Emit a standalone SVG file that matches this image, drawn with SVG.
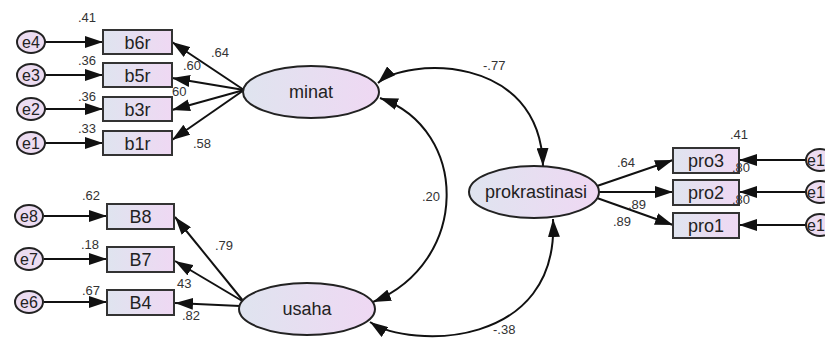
<svg xmlns="http://www.w3.org/2000/svg" width="825" height="338" viewBox="0 0 825 338">
<defs>
<linearGradient id="g" x1="0" y1="0" x2="1" y2="0">
<stop offset="0" stop-color="#dfe4ef"/>
<stop offset="1" stop-color="#efd8f3"/>
</linearGradient>
<marker id="ah" markerUnits="userSpaceOnUse" markerWidth="18" markerHeight="12" refX="18" refY="6" orient="auto-start-reverse">
<path d="M0,0 L18,6 L0,12 z" fill="#111"/>
</marker>
<style>
.box{fill:url(#g);stroke:#333;stroke-width:2}
.lat{fill:url(#g);stroke:#222;stroke-width:2}
.err{fill:#ecdcf1;stroke:#222;stroke-width:2}
.ln{stroke:#111;stroke-width:2;fill:none;marker-end:url(#ah)}
.cv{stroke:#111;stroke-width:2;fill:none;marker-start:url(#ah);marker-end:url(#ah)}
.t{font-family:"Liberation Sans",Arial,sans-serif;font-size:18px;fill:#222;text-anchor:middle}
.e{font-family:"Liberation Sans",Arial,sans-serif;font-size:16px;fill:#222;text-anchor:middle}
.es{font-family:"Liberation Sans",Arial,sans-serif;font-size:16px;fill:#222;text-anchor:start}
.n{font-family:"Liberation Sans",Arial,sans-serif;font-size:13px;fill:#333}
</style>
</defs>
<rect width="825" height="338" fill="#fff"/>

<g id="connectors">
<line class="ln" x1="45" y1="42" x2="103" y2="42"/>
<line class="ln" x1="45" y1="75" x2="103" y2="75"/>
<line class="ln" x1="45" y1="109" x2="103" y2="109"/>
<line class="ln" x1="45" y1="143" x2="103" y2="143"/>
<line class="ln" x1="44" y1="216" x2="107" y2="216"/>
<line class="ln" x1="44" y1="259" x2="107" y2="259"/>
<line class="ln" x1="44" y1="302" x2="107" y2="302"/>
<line class="ln" x1="244" y1="90" x2="172" y2="42"/>
<line class="ln" x1="244" y1="90" x2="172" y2="78"/>
<line class="ln" x1="244" y1="90" x2="172" y2="110"/>
<line class="ln" x1="244" y1="90" x2="172" y2="140"/>
<line class="ln" x1="244" y1="302" x2="175" y2="217"/>
<line class="ln" x1="244" y1="302" x2="175" y2="261"/>
<line class="ln" x1="240" y1="306" x2="175" y2="303"/>
<line class="ln" x1="597" y1="186" x2="673" y2="160"/>
<line class="ln" x1="599" y1="192" x2="673" y2="192"/>
<line class="ln" x1="597" y1="198" x2="673" y2="225"/>
<line class="ln" x1="806" y1="160" x2="739" y2="160"/>
<line class="ln" x1="806" y1="192" x2="739" y2="192"/>
<line class="ln" x1="806" y1="225" x2="739" y2="225"/>
<path class="cv" d="M378,83 C405,58 540,52 543,166"/>
<path class="cv" d="M380,98 C470,130 470,262 373,302"/>
<path class="cv" d="M370,322 C410,349 560,349 553,219"/>
</g>

<g id="e4"><ellipse class="err" cx="31" cy="42" rx="14" ry="11"/><text class="e" x="31" y="48">e4</text></g>
<g id="e3"><ellipse class="err" cx="31" cy="75" rx="14" ry="11"/><text class="e" x="31" y="81">e3</text></g>
<g id="e2"><ellipse class="err" cx="31" cy="109" rx="14" ry="11"/><text class="e" x="31" y="115">e2</text></g>
<g id="e1"><ellipse class="err" cx="31" cy="143" rx="14" ry="11"/><text class="e" x="31" y="149">e1</text></g>
<g id="e8"><ellipse class="err" cx="29" cy="216" rx="14" ry="11"/><text class="e" x="29" y="222">e8</text></g>
<g id="e7"><ellipse class="err" cx="29" cy="259" rx="14" ry="11"/><text class="e" x="29" y="265">e7</text></g>
<g id="e6"><ellipse class="err" cx="29" cy="302" rx="14" ry="11"/><text class="e" x="29" y="308">e6</text></g>

<g id="b6r"><rect class="box" x="103" y="30" width="69" height="24"/><text class="t" x="137.5" y="48.5">b6r</text></g>
<g id="b5r"><rect class="box" x="103" y="63" width="69" height="24"/><text class="t" x="137.5" y="81.5">b5r</text></g>
<g id="b3r"><rect class="box" x="103" y="97" width="69" height="24"/><text class="t" x="137.5" y="115.5">b3r</text></g>
<g id="b1r"><rect class="box" x="103" y="131" width="69" height="24"/><text class="t" x="137.5" y="149.5">b1r</text></g>
<g id="B8"><rect class="box" x="107" y="204" width="67" height="25"/><text class="t" x="140.5" y="223">B8</text></g>
<g id="B7"><rect class="box" x="107" y="247" width="67" height="25"/><text class="t" x="140.5" y="266">B7</text></g>
<g id="B4"><rect class="box" x="107" y="290" width="67" height="25"/><text class="t" x="140.5" y="309">B4</text></g>

<g id="minat"><ellipse class="lat" cx="311" cy="92" rx="68" ry="26"/><text class="t" x="311" y="98">minat</text></g>
<g id="usaha"><ellipse class="lat" cx="307" cy="309" rx="68" ry="26"/><text class="t" x="307" y="315">usaha</text></g>
<g id="prokrastinasi"><ellipse class="lat" cx="534" cy="192" rx="65" ry="26"/><text class="t" x="536" y="198">prokrastinasi</text></g>

<g id="pro3"><rect class="box" x="673" y="148" width="66" height="25"/><text class="t" x="706" y="167">pro3</text></g>
<g id="pro2"><rect class="box" x="673" y="180" width="66" height="25"/><text class="t" x="706" y="199">pro2</text></g>
<g id="pro1"><rect class="box" x="673" y="213" width="66" height="25"/><text class="t" x="706" y="232">pro1</text></g>

<g id="e1a"><ellipse class="err" cx="820" cy="160" rx="14" ry="11"/><text class="es" x="807" y="166">e1</text></g>
<g id="e1b"><ellipse class="err" cx="820" cy="192" rx="14" ry="11"/><text class="es" x="807" y="198">e1</text></g>
<g id="e1c"><ellipse class="err" cx="820" cy="225" rx="14" ry="11"/><text class="es" x="807" y="231">e1</text></g>

<g id="labels">
<text class="n" x="78" y="22">.41</text>
<text class="n" x="78" y="65">.36</text>
<text class="n" x="78" y="101">.36</text>
<text class="n" x="78" y="133">.33</text>
<text class="n" x="211" y="57">.64</text>
<text class="n" x="183" y="70">.60</text>
<text class="n" x="172" y="96">60</text>
<text class="n" x="193" y="148">.58</text>
<text class="n" x="82" y="200">.62</text>
<text class="n" x="81" y="249">.18</text>
<text class="n" x="82" y="295">.67</text>
<text class="n" x="215" y="250">.79</text>
<text class="n" x="177" y="288">43</text>
<text class="n" x="182" y="320">.82</text>
<text class="n" x="483" y="70">-.77</text>
<text class="n" x="422" y="201">.20</text>
<text class="n" x="493" y="334">-.38</text>
<text class="n" x="730" y="139">.41</text>
<text class="n" x="732" y="172">.80</text>
<text class="n" x="732" y="204">.80</text>
<text class="n" x="617" y="167">.64</text>
<text class="n" x="628" y="209">.89</text>
<text class="n" x="613" y="226">.89</text>
</g>
</svg>
